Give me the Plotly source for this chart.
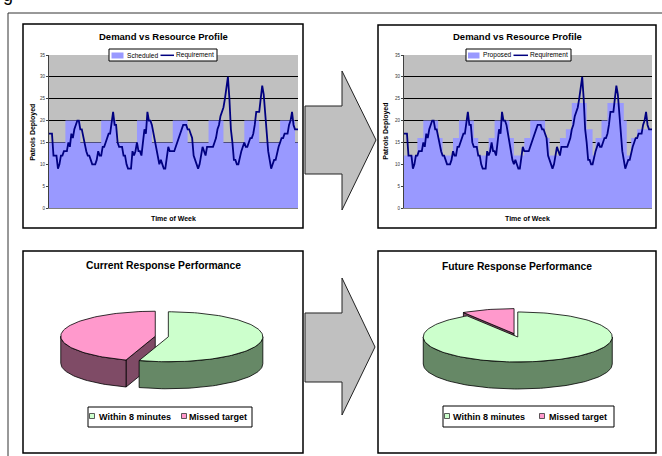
import math
import plotly.graph_objects as go

W, H = 662, 456
FONT = "Liberation Sans, Arial, sans-serif"

# ---------------- data ----------------
HOURS = list(range(168))

# hourly patrol requirement across the week
REQUIREMENT = [
    17, 17, 17, 12, 12, 12, 9, 10, 12, 12,
    13, 13, 13, 15, 14, 17, 16, 18, 19, 20,
    20, 18, 18, 16, 14, 13, 12, 12, 11, 10,
    10, 10, 11, 13, 12, 12, 14, 14, 15, 16,
    17, 17, 19, 22, 19, 19, 15, 14, 14, 14,
    12, 12, 10, 9, 9, 9, 13, 12, 13, 15,
    13, 13, 12, 15, 18, 17, 22, 20, 20, 19,
    17, 15, 14, 11, 10, 11, 10, 9, 9, 11,
    14, 13, 13, 13, 13, 14, 15, 16, 17, 18,
    19, 19, 19, 18, 18, 17, 16, 12, 11, 10,
    9, 10, 12, 14, 13, 12, 14, 14, 14, 14,
    14, 15, 16, 18, 19, 21, 22, 23, 25, 28,
    30, 25, 18, 15, 11, 11, 10, 10, 12, 13,
    14, 15, 14, 14, 15, 16, 16, 17, 19, 22,
    22, 22, 25, 28, 26, 21, 17, 13, 11, 9,
    10, 11, 11, 13, 14, 15, 16, 16, 17, 17,
    17, 19, 20, 22, 19, 18, 18, 18,
]

# current roster: hour at which each staffing level starts
SCHEDULED_HOURS = [0, 11, 21, 35, 45, 59, 69, 83, 93, 107, 117, 131, 141, 155, 165, 167]
SCHEDULED_LEVELS = [15, 20, 15, 20, 15, 20, 15, 20, 15, 20, 15, 20, 15, 20, 15, 15]

# proposed roster
PROPOSED_HOURS = [0, 9, 13, 23, 26, 33, 37, 47, 50, 57, 61, 71, 74, 81, 85, 95, 98,
                  105, 109, 113, 123, 127, 129, 133, 137, 148, 150, 153, 157, 167]
PROPOSED_LEVELS = [12, 16, 20, 16, 12, 16, 20, 16, 12, 16, 20, 16, 12, 16, 20, 16, 12,
                   16, 18, 24, 18, 12, 16, 20, 24, 20, 12, 16, 18, 18]

Y_TICKS = [0, 5, 10, 15, 20, 25, 30, 35]

PIE_LABELS = ["Within 8 minutes", "Missed target"]
CURRENT_SHARE = [55, 45]
FUTURE_SHARE = [91, 9]

# ---------------- styling ----------------
FILL_BLUE = "#9999ff"
LINE_NAVY = "#000080"
PLOT_GRAY = "#c0c0c0"
TOP_COLORS = ["#ccffcc", "#ff99cc"]
SIDE_COLORS = ["#668866", "#7f4b66"]


def fx(px):
    return px / W


def fy(py):
    return 1 - py / H


fig = go.Figure()

# ---------------- demand vs resource charts ----------------
for ax, hrs, lvls, name in [("", SCHEDULED_HOURS, SCHEDULED_LEVELS, "Scheduled"),
                            ("2", PROPOSED_HOURS, PROPOSED_LEVELS, "Proposed")]:
    fig.add_trace(go.Scatter(
        x=hrs, y=lvls, name=name, mode="lines", line=dict(width=0, shape="hv"),
        fill="tozeroy", fillcolor=FILL_BLUE, xaxis="x" + ax, yaxis="y" + ax,
        hoverinfo="skip", showlegend=False))
    fig.add_trace(go.Scatter(
        x=HOURS, y=REQUIREMENT, name="Requirement", mode="lines",
        line=dict(color=LINE_NAVY, width=1.8), xaxis="x" + ax, yaxis="y" + ax,
        hoverinfo="skip", showlegend=False))

# ---------------- 3-D style pies ----------------
RX, RY, DEPTH, EXPLODE = 94.5, 25.0, 27.0, 0.07


def rim(cx, cy, ang, drop=0.0):
    t = math.radians(ang)
    return cx + RX * math.sin(t), cy - RY * math.cos(t) + drop


def arc(cx, cy, a0, a1, drop=0.0):
    n = max(2, int(abs(a1 - a0) / 2) + 1)
    return [rim(cx, cy, a0 + (a1 - a0) * i / (n - 1), drop) for i in range(n)]


def face(pts, color):
    xs = [p[0] for p in pts] + [pts[0][0]]
    ys = [p[1] for p in pts] + [pts[0][1]]
    fig.add_trace(go.Scatter(
        x=xs, y=ys, mode="lines", fill="toself", fillcolor=color,
        line=dict(color="black", width=0.8), xaxis="x3", yaxis="y3",
        hoverinfo="skip", showlegend=False))


def add_pie(cx, cy, shares):
    total = float(sum(shares))
    start = 0.0
    slices = []
    for share, top, side in zip(shares, TOP_COLORS, SIDE_COLORS):
        a0, a1 = start, start + 360.0 * share / total
        mid = math.radians((a0 + a1) / 2)
        scx = cx + EXPLODE * RX * math.sin(mid)
        scy = cy - EXPLODE * RY * math.cos(mid)
        slices.append((math.cos(mid), a0, a1, scx, scy, top, side))
        start = a1
    slices.sort(key=lambda s: -s[0])  # back slices first
    for _, a0, a1, scx, scy, top, side in slices:
        for ang, normal in [(a0, a0 - 90), (a1, a1 + 90)]:
            if math.cos(math.radians(normal)) < -1e-6:
                r0 = rim(scx, scy, ang)
                r1 = rim(scx, scy, ang, DEPTH)
                face([(scx, scy), r0, r1, (scx, scy + DEPTH)], side)
        lo, hi = max(a0, 90.0), min(a1, 270.0)
        if hi > lo:
            face(arc(scx, scy, lo, hi) + arc(scx, scy, hi, lo, DEPTH), side)
        face([(scx, scy)] + arc(scx, scy, a0, a1), top)


add_pie(161.8, 336.5, CURRENT_SHARE)
add_pie(515.9, 335.3, FUTURE_SHARE)

# ---------------- shapes ----------------
shapes = []


def rect(x0, y0, x1, y1, fill=None, color="black", width=1.0, layer="above"):
    shapes.append(dict(type="rect", xref="paper", yref="paper",
                       x0=fx(x0), x1=fx(x1), y0=fy(y1), y1=fy(y0),
                       fillcolor=fill if fill else "rgba(0,0,0,0)",
                       line=dict(color=color, width=width), layer=layer))


def poly(pts, fill, color="#222222", width=1.0):
    d = "M " + " L ".join(f"{fx(x):.5f},{fy(y):.5f}" for x, y in pts) + " Z"
    shapes.append(dict(type="path", xref="paper", yref="paper", path=d,
                       fillcolor=fill, line=dict(color=color, width=width), layer="above"))


# plot area backgrounds under the gridlines
for ax in ["", "2"]:
    shapes.append(dict(type="rect", xref=f"x{ax} domain", yref=f"y{ax} domain",
                       x0=0, x1=1, y0=0, y1=1, fillcolor=PLOT_GRAY,
                       line=dict(width=0), layer="below"))

# outer frame
rect(8, 13, 720, 520, color="#333333", width=1)
# chart panels
rect(23, 24, 303, 228, color="black", width=1.5)
rect(378, 25, 656, 228, color="black", width=1.5)
rect(23, 251, 303, 453, color="black", width=1.5)
rect(378, 251, 656, 453, color="black", width=1.5)

# arrows
poly([(305, 106), (342, 106), (342, 71), (376, 140), (342, 210), (342, 174), (305, 174)], PLOT_GRAY)
poly([(305, 313), (342, 313), (342, 278), (375, 347), (342, 415), (342, 382), (305, 382)], PLOT_GRAY)

# line-chart legends
rect(109, 49, 217, 61, fill="white", color="black", width=1)
rect(111.5, 52.5, 123.5, 58.5, fill=FILL_BLUE, color=FILL_BLUE, width=0)
shapes.append(dict(type="line", xref="paper", yref="paper", x0=fx(160.5), x1=fx(174),
                   y0=fy(55.3), y1=fy(55.3), line=dict(color=LINE_NAVY, width=1.5), layer="above"))
rect(466, 49, 571, 61, fill="white", color="black", width=1)
rect(468, 52.5, 479.5, 58.5, fill=FILL_BLUE, color=FILL_BLUE, width=0)
shapes.append(dict(type="line", xref="paper", yref="paper", x0=fx(513.5), x1=fx(528),
                   y0=fy(55.3), y1=fy(55.3), line=dict(color=LINE_NAVY, width=1.5), layer="above"))

# pie legends
rect(88, 407, 252, 427, fill="white", color="black", width=1)
rect(89.5, 413.5, 94.5, 418.5, fill=TOP_COLORS[0], color="#333333", width=0.8)
rect(181.5, 413.5, 186.5, 418.5, fill=TOP_COLORS[1], color="#333333", width=0.8)
rect(443, 406, 614, 427, fill="white", color="black", width=1)
rect(444.5, 413.5, 449.5, 418.5, fill=TOP_COLORS[0], color="#333333", width=0.8)
rect(539.5, 413.5, 544.5, 418.5, fill=TOP_COLORS[1], color="#333333", width=0.8)

# ---------------- text ----------------
annotations = []


def text(s, x, y, size, bold=False, xanchor="center", yanchor="middle", angle=0):
    annotations.append(dict(
        text=s, x=fx(x), y=fy(y), xref="paper", yref="paper", showarrow=False,
        xanchor=xanchor, yanchor=yanchor, textangle=angle, borderpad=0,
        font=dict(family=FONT, size=size, color="black",
                  weight="bold" if bold else "normal")))


text("g", 2, 6, 18, xanchor="left", yanchor="bottom")

text("Demand vs Resource Profile", 163.5, 37, 9.5, bold=True)
text("Demand vs Resource Profile", 517.2, 37, 9.5, bold=True)
text("Patrols Deployed", 32.3, 132.5, 7, bold=True, angle=-90)
text("Patrols Deployed", 386, 131.7, 7, bold=True, angle=-90)
text("Time of Week", 173.7, 218.3, 7, bold=True)
text("Time of Week", 527.7, 218.3, 7, bold=True)

text("Scheduled", 126, 55.3, 6.6, xanchor="left")
text("Requirement", 175, 55.3, 6.6, xanchor="left")
text("Proposed", 481.5, 55.3, 6.6, xanchor="left")
text("Requirement", 529, 55.3, 6.6, xanchor="left")

text("Current Response Performance", 163.3, 265.3, 10.3, bold=True)
text("Future Response Performance", 516.8, 266.7, 10.3, bold=True)

text(PIE_LABELS[0], 98, 416.7, 9, bold=True, xanchor="left")
text(PIE_LABELS[1], 188, 416.7, 9, bold=True, xanchor="left")
text(PIE_LABELS[0], 452, 416.7, 9, bold=True, xanchor="left")
text(PIE_LABELS[1], 547.5, 416.7, 9, bold=True, xanchor="left")

# ---------------- axes ----------------
xcommon = dict(range=[0, 167], showgrid=False, zeroline=False, showticklabels=False,
               ticks="", showline=True, linecolor="#808080", linewidth=1, fixedrange=True)
ycommon = dict(range=[0, 35], tickvals=Y_TICKS, ticks="outside", ticklen=2, tickwidth=1,
               tickcolor="#404040", showgrid=True, gridcolor="black", gridwidth=1,
               zeroline=False, showline=True, linecolor="#404040", linewidth=1,
               tickfont=dict(family=FONT, size=4.5, color="#333333"), fixedrange=True)
ydom = [fy(208), fy(55)]

fig.update_layout(
    template="none",
    width=W, height=H, margin=dict(l=0, r=0, t=0, b=0),
    paper_bgcolor="white", plot_bgcolor="rgba(0,0,0,0)",
    showlegend=False,
    xaxis=dict(domain=[fx(49), fx(298)], anchor="y", **xcommon),
    yaxis=dict(domain=ydom, anchor="x", **ycommon),
    xaxis2=dict(domain=[fx(404), fx(652)], anchor="y2", **xcommon),
    yaxis2=dict(domain=ydom, anchor="x2", **ycommon),
    xaxis3=dict(domain=[0, 1], range=[0, W], visible=False, anchor="y3", fixedrange=True),
    yaxis3=dict(domain=[0, 1], range=[H, 0], visible=False, anchor="x3", fixedrange=True),
    shapes=shapes,
    annotations=annotations,
)

fig.write_html("out.html")
